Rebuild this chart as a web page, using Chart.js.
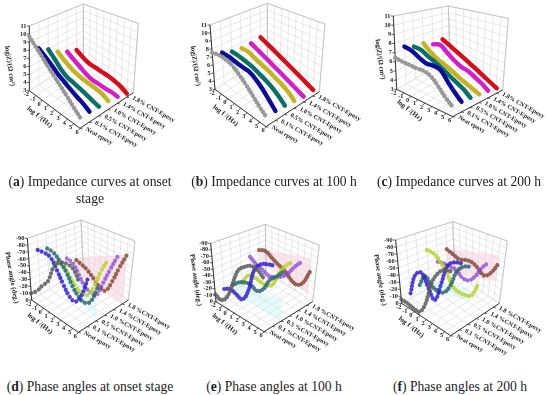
<!DOCTYPE html>
<html>
<head>
<meta charset="utf-8">
<script src="https://cdn.jsdelivr.net/npm/chart.js@4"></script>
<style>
  html, body { margin: 0; padding: 0; background: #fff; }
  body { position: relative; width: 550px; height: 395px; overflow: hidden; }
  canvas { position: absolute; filter: blur(0.4px); }
  .cap { position: absolute; text-align: center; font: 13.6px/17px "Liberation Serif", serif; color: #222; white-space: nowrap; transform: translateX(-50%); }
</style>
</head>
<body>
<canvas id="panelA" width="190" height="175" style="left:0;top:0"></canvas>
<canvas id="panelB" width="190" height="175" style="left:180px;top:0"></canvas>
<canvas id="panelC" width="190" height="175" style="left:360px;top:0"></canvas>
<canvas id="panelD" width="190" height="170" style="left:0;top:205px"></canvas>
<canvas id="panelE" width="190" height="170" style="left:180px;top:205px"></canvas>
<canvas id="panelF" width="190" height="170" style="left:360px;top:205px"></canvas>
<div class="cap" style="left:90px;top:173px">(<b>a</b>) Impedance curves at onset<br>stage</div>
<div class="cap" style="left:274px;top:173px">(<b>b</b>) Impedance curves at 100 h</div>
<div class="cap" style="left:459px;top:173px">(<b>c</b>) Impedance curves at 200 h</div>
<div class="cap" style="left:90px;top:378px">(<b>d</b>) Phase angles at onset stage</div>
<div class="cap" style="left:274px;top:378px">(<b>e</b>) Phase angles at 100 h</div>
<div class="cap" style="left:460px;top:378px">(<b>f</b>) Phase angles at 200 h</div>
<script>
// eje de frecuencia y etiquetas
const logFreq = [-2, -1, 0, 1, 2, 3, 4, 5, 6];
const impedanceTicks = [3, 4, 5, 6, 7, 8, 9, 10, 11];
const phaseTicks = [0, -10, -20, -30, -40, -50, -60, -70, -80, -90];
const impedanceNames = ['Neat epoxy', '0.1% CNT-Epoxy', '0.5% CNT-Epoxy', '1.0% CNT-Epoxy', '1.4% CNT-Epoxy', '1.8% CNT-Epoxy'];
const phaseNames = ['Neat epoxy', '0.1 %CNT-Epoxy', '0.5 %CNT-Epoxy', '1.0 %CNT-Epoxy', '1.4 %CNT-Epoxy', '1.8 %CNT-Epoxy'];

// log|Z| inicio
const zOnsetNeat = [9.68, 8.84, 8.05, 7.26, 6.56, 5.9, 5.28, 4.65, 4.08];
const zOnset01 = [7.66, 7.06, 6.48, 5.87, 5.45, 5.05, 4.71, 4.44, 4.05];
const zOnset05 = [6.91, 6.14, 5.33, 4.85, 4.7, 4.5, 4.32, 4.12, 3.95];
const zOnset10 = [5.93, 5.33, 4.87, 4.59, 4.45, 4.39, 4.35, 4.23, 3.92];
const zOnset14 = [5.21, 4.7, 4.27, 3.87, 3.66, 3.7, 3.7, 3.77, 3.73];
const zOnset18 = [4.68, 4.22, 3.95, 3.95, 3.93, 3.96, 3.87, 3.7, 3.4];

// log|Z| 100 h
const z100Neat = [7.56, 7.7, 7.6, 7.28, 6.66, 5.99, 5.25, 4.57, 4.0];
const z10001 = [6.97, 6.93, 6.72, 6.57, 6.47, 6.04, 5.41, 4.68, 3.98];
const z10005 = [6.47, 6.4, 6.23, 6.01, 5.68, 5.36, 4.99, 4.5, 3.92];
const z10010 = [6.26, 6.31, 5.94, 5.62, 5.37, 5.04, 4.75, 4.35, 3.79];
const z10014 = [6.27, 5.86, 5.48, 5.12, 4.79, 4.47, 4.17, 3.88, 3.62];
const z10018 = [6.42, 6.01, 5.61, 5.25, 4.9, 4.57, 4.27, 3.98, 3.69];

// log|Z| 200 h
const z200Neat = [6.45, 6.37, 6.36, 6.35, 6.41, 6.15, 5.44, 4.63, 4.04];
const z20001 = [7.28, 7.17, 6.77, 6.46, 6.55, 6.43, 5.55, 4.72, 4.08];
const z20005 = [6.86, 6.83, 6.4, 6.11, 5.71, 5.29, 4.92, 4.56, 4.03];
const z20010 = [6.82, 6.07, 5.59, 5.3, 4.98, 4.63, 4.38, 4.13, 3.9];
const z20014 = [6.18, 6.5, 5.9, 5.33, 4.96, 4.84, 4.54, 4.22, 3.8];
const z20018 = [6.33, 5.89, 5.48, 5.11, 4.75, 4.42, 4.12, 3.82, 3.56];

// fase inicio
const pOnsetNeat = [-9.7, -18.4, -30.7, -41.5, -64.1, -72.8, -74.3, -71.6, -59];
const pOnset01 = [-67.4, -67.4, -64.5, -49.8, -34.5, -23.5, -21.7, -34.4, -60.7];
const pOnset05 = [-64, -61.7, -52.5, -40.9, -25.7, -16.9, -13.8, -19.9, -41.5];
const pOnset10 = [-35.7, -33, -22.8, -13.1, -8.8, -11.9, -28.9, -54.1, -73.6];
const pOnset14 = [-33.5, -30.9, -17.6, -4.9, -2.2, -4.1, -26.9, -51, -74];
const pOnset18 = [-22.1, -19.7, -15.7, -8.6, -2.4, -2.3, -21.2, -47.7, -72];

// fase 100 h
const p100Neat = [-11.3, -7.9, -18, -41.2, -63, -70.3, -73.9, -70.7, -62];
const p10001 = [-11.8, -17.2, -14.3, -12.1, -28.7, -61.6, -72.3, -75.1, -76.2];
const p10005 = [-10.2, -20.1, -25.3, -26.2, -22.2, -29.7, -46.6, -54.9, -65];
const p10010 = [-4.4, -23.3, -27, -24.3, -24.3, -29.2, -50.7, -65.6, -74.7];
const p10014 = [-42.6, -34.7, -30.6, -26, -29.8, -35.4, -45.3, -59.7, -70.9];
const p10018 = [-46.9, -50.7, -44.3, -38.2, -34.1, -25.8, -21.7, -28.6, -51.5];

// fase 200 h
const p200Neat = [-5.7, -5.5, -4, -4.9, -20.4, -49.4, -65, -72, -72.9];
const p20001 = [-7, -38.6, -46.2, -30.6, -18.4, -42.1, -69.7, -77.2, -78.9];
const p20005 = [-11.9, -30.6, -21.6, -19.1, -22.1, -35.1, -57.9, -67.7, -70.9];
const p20010 = [-59.1, -58.3, -50.1, -37.6, -23.2, -20.2, -21.4, -25.1, -45.3];
const p20014 = [-33.7, -36.3, -36.1, -35.9, -29.4, -30.4, -40.1, -56.8, -67.7];
const p20018 = [-47, -43.8, -40.8, -44.7, -45.9, -41.6, -35.5, -43.4, -60.1];

const seriePos = [0, 0.175, 0.35, 0.525, 0.7, 0.875];
const coloresZ = ['#989898', '#0c0c96', '#0b6f68', '#c4b324', '#d41fc8', '#d40f1c'];
const coloresP = ['rgba(90,90,90,.85)', 'rgba(50,30,205,.85)', 'rgba(45,100,110,.85)', 'rgba(185,210,50,.85)', 'rgba(135,70,205,.75)', 'rgba(125,65,45,.8)'];

// coordenadas de la caja 3D, con origen en el recuadro de cada panel
const toPage = (pts) => Object.fromEntries(Object.entries(pts).map(([k, p]) => [k, [p[0] / 3, p[1] / 3]]));

const boxA = toPage({ f00: [88, 272], f10: [240, 385], f11: [400, 278], f01: [250, 172], t00: [88, 78], t10: [240, 141], t11: [415, 70], t01: [250, 12] });
const boxB = toPage({ f00: [105, 268], f10: [258, 380], f11: [418, 275], f01: [262, 170], t00: [90, 75], t10: [258, 140], t11: [435, 72], t01: [262, 10] });
const boxC = toPage({ f00: [110, 268], f10: [278, 350], f11: [428, 270], f01: [270, 175], t00: [100, 48], t10: [278, 120], t11: [445, 55], t01: [265, 18] });
const boxD = toPage({ f00: [95, 285], f10: [235, 382], f11: [385, 285], f01: [250, 190], t00: [82, 100], t10: [238, 150], t11: [405, 108], t01: [243, 45] });
const boxE = toPage({ f00: [108, 290], f10: [252, 380], f11: [398, 290], f01: [258, 200], t00: [92, 115], t10: [255, 155], t11: [418, 120], t01: [256, 58] });
const boxF = toPage({ f00: [125, 295], f10: [272, 392], f11: [418, 295], f01: [285, 205], t00: [107, 105], t10: [275, 155], t11: [442, 108], t01: [278, 50] });

const mezcla = (a, b, t) => [a[0] + (b[0] - a[0]) * t, a[1] + (b[1] - a[1]) * t];

const proyectar = (box, u, v, w) => {
    const piso = mezcla(mezcla(box.f00, box.f10, u), mezcla(box.f01, box.f11, u), v);
    const techo = mezcla(mezcla(box.t00, box.t10, u), mezcla(box.t01, box.t11, u), v);
    return mezcla(piso, techo, w);
};

// paredes, rejilla, ejes y textos de la caja
const caja3d = {
    id: 'caja3d',
    beforeDatasetsDraw(chart, args, opts) {
        const { ctx, scales } = chart;
        const { box, ticks, names, title, planes, titleFrom, titleAngle } = opts;
        const px = (u, v, w) => {
            const p = proyectar(box, u, v, w);
            return [scales.x.getPixelForValue(p[0]), scales.y.getPixelForValue(p[1])];
        };
        const linea = (a, b, color, ancho) => {
            ctx.strokeStyle = color;
            ctx.lineWidth = ancho;
            ctx.beginPath();
            ctx.moveTo(a[0], a[1]);
            ctx.lineTo(b[0], b[1]);
            ctx.stroke();
        };
        const texto = (str, x, y, ang, align, font) => {
            ctx.save();
            ctx.translate(x, y);
            ctx.rotate(ang * Math.PI / 180);
            ctx.textAlign = align;
            ctx.textBaseline = 'middle';
            ctx.font = font;
            ctx.fillStyle = '#222';
            ctx.fillText(str, 0, 0);
            ctx.restore();
        };
        ctx.save();
        (planes || []).forEach((pl) => {
            ctx.fillStyle = pl.color;
            ctx.beginPath();
            [[0, pl.w[0]], [1, pl.w[1]], [1, pl.w[2]], [0, pl.w[3]]].forEach((q, i) => {
                const p = px(q[0], pl.v, q[1]);
                if (i === 0) ctx.moveTo(p[0], p[1]); else ctx.lineTo(p[0], p[1]);
            });
            ctx.fill();
        });
        const gris = '#dedede';
        ticks.forEach((t, i) => {
            const w = i / (ticks.length - 1);
            linea(px(0, 0, w), px(0, 1, w), gris, 0.7);
            linea(px(0, 1, w), px(1, 1, w), gris, 0.7);
        });
        logFreq.forEach((f, i) => {
            const u = i / (logFreq.length - 1);
            linea(px(u, 0, 0), px(u, 1, 0), gris, 0.7);
            linea(px(u, 1, 0), px(u, 1, 1), gris, 0.7);
        });
        [...seriePos, 1].forEach((v) => {
            linea(px(0, v, 0), px(1, v, 0), gris, 0.7);
            linea(px(0, v, 0), px(0, v, 1), gris, 0.7);
        });
        linea(px(0, 0, 1), px(0, 1, 1), '#bbb', 0.8);
        linea(px(0, 1, 1), px(1, 1, 1), '#bbb', 0.8);
        linea(px(0, 1, 0), px(0, 1, 1), '#bbb', 0.8);
        linea(px(1, 1, 0), px(1, 1, 1), '#bbb', 0.8);

        linea(px(0, 0, 0), px(0, 0, 1), '#333', 1);
        linea(px(0, 0, 0), px(1, 0, 0), '#333', 1);
        linea(px(1, 0, 0), px(1, 1, 0), '#333', 1);

        const fuente = 'bold 6.3px "Liberation Serif", serif';
        ticks.forEach((t, i) => {
            const p = px(0, 0, i / (ticks.length - 1));
            linea(p, [p[0] - 2.5, p[1]], '#333', 0.8);
            texto(String(t), p[0] - 3, p[1], 0, 'right', fuente);
        });
        logFreq.forEach((f, i) => {
            const p = px(i / (logFreq.length - 1), 0, 0);
            linea(p, [p[0] - 1.5, p[1] + 2], '#333', 0.8);
            texto(String(f), p[0] - 3, p[1] + 4, 0, 'center', fuente);
        });
        names.forEach((n, i) => {
            const p = px(1, seriePos[i], 0);
            linea(p, [p[0] + 2.5, p[1] + 0.5], '#333', 0.8);
            texto(n, p[0] + 6, p[1] + 0.5, 29, 'left', fuente);
        });
        // titulos de ejes
        const medio = px(0.5, 0, 0);
        texto('log f /(Hz)', medio[0] - 15, medio[1] + 7.5, 38, 'center', 'bold 7px "Liberation Serif", serif');
        texto(title, scales.x.getPixelForValue(titleFrom[0] / 3), scales.y.getPixelForValue(titleFrom[1] / 3), titleAngle, 'center', 'bold 6.8px "Liberation Serif", serif');
        ctx.restore();
    }
};

// paso = separacion de los marcadores en las curvas de fase, 0 en las de impedancia
const crearPanel = (id, width, height, box, series, colores, ticks, names, title, titleFrom, titleAngle, paso, planes) => {
    const lo = ticks[0];
    const hi = ticks[ticks.length - 1];
    const datasets = series.map((valores, s) => ({
        data: valores.map((val, i) => {
            const u = (logFreq[i] - logFreq[0]) / (logFreq[logFreq.length - 1] - logFreq[0]);
            const w = (val - lo) / (hi - lo);
            const p = proyectar(box, u, seriePos[s], w);
            return { x: p[0], y: p[1] };
        }),
        showLine: true,
        tension: 0.4,
        pointRadius: 0,
        borderColor: colores[s],
        borderWidth: paso ? 4.2 : 4.4,
        borderCapStyle: 'round',
        borderJoinStyle: 'round',
        borderDash: paso ? [0.01, paso] : (s === 0 ? [0.01, 3.8] : [])
    }));
    return new Chart(document.getElementById(id), {
        type: 'scatter',
        data: { datasets },
        plugins: [caja3d],
        options: {
            responsive: false,
            animation: false,
            layout: { padding: 0 },
            scales: {
                x: { type: 'linear', display: false, min: 0, max: width },
                y: { type: 'linear', display: false, min: 0, max: height, reverse: true }
            },
            plugins: {
                legend: { display: false },
                tooltip: { enabled: false },
                caja3d: { box, ticks, names, title, titleFrom, titleAngle, planes }
            }
        }
    });
};

const cian = 'rgba(120,235,235,.2)';
const rosa = 'rgba(255,120,170,.2)';
const planosD = [{ v: 0.35, w: [0.4, 0.02, 0.35, 0.75], color: cian }, { v: 0.875, w: [0, 0, 0.8, 0.3], color: rosa }];
const planosE = [{ v: 0.35, w: [0, 0, 0.3, 0.2], color: cian }, { v: 0.875, w: [0.32, 0.2, 0.8, 0.55], color: rosa }];
const planosF = [{ v: 0.35, w: [0.07, 0.33, 0.49, 0.24], color: cian }, { v: 0.875, w: [0.1, 0.4, 0.81, 0.54], color: rosa }];
const tituloZ = 'log|Z|/(Ω cm²)';
const tituloP = 'Phase angle (deg.)';

crearPanel('panelA', 190, 175, boxA, [zOnsetNeat, zOnset01, zOnset05, zOnset10, zOnset14, zOnset18], coloresZ, impedanceTicks, impedanceNames, tituloZ, [29, 198], 82, 0);
crearPanel('panelB', 190, 175, boxB, [z100Neat, z10001, z10005, z10010, z10014, z10018], coloresZ, impedanceTicks, impedanceNames, tituloZ, [46, 198], 82, 0);
crearPanel('panelC', 190, 175, boxC, [z200Neat, z20001, z20005, z20010, z20014, z20018], coloresZ, impedanceTicks, impedanceNames, tituloZ, [60, 178], 82, 0);
crearPanel('panelD', 190, 170, boxD, [pOnsetNeat, pOnset01, pOnset05, pOnset10, pOnset14, pOnset18], coloresP, phaseTicks, phaseNames, tituloP, [35, 218], 80, 4.2, planosD);
crearPanel('panelE', 190, 170, boxE, [p100Neat, p10001, p10005, p10010, p10014, p10018], coloresP, phaseTicks, phaseNames, tituloP, [47, 225], 82, 3, planosE);
crearPanel('panelF', 190, 170, boxF, [p200Neat, p20001, p20005, p20010, p20014, p20018], coloresP, phaseTicks, phaseNames, tituloP, [60, 225], 81, 3.6, planosF);
</script>
</body>
</html>
